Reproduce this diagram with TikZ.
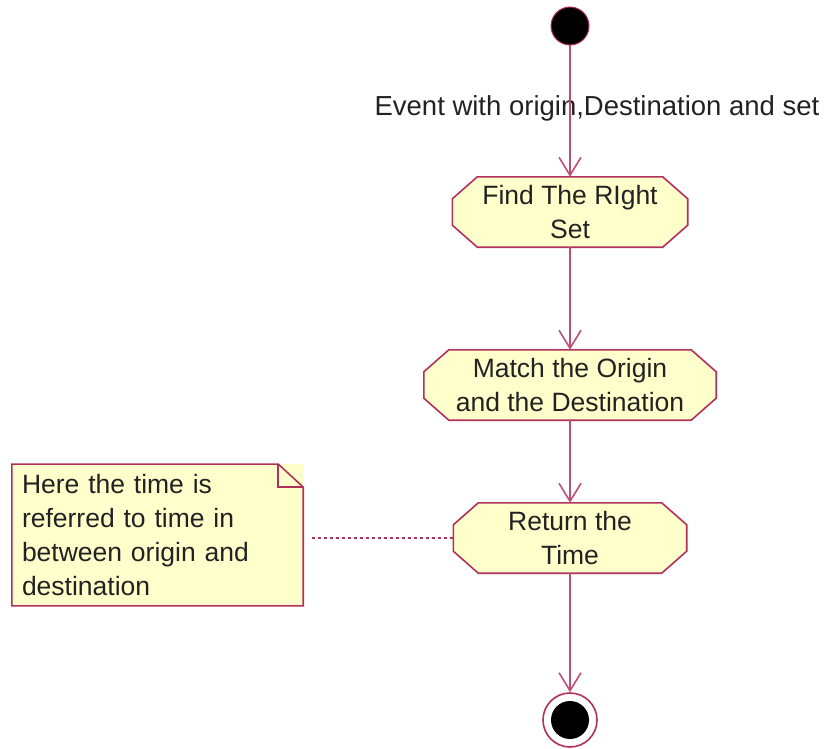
\documentclass[tikz,border=0pt]{standalone}
\usepackage{fontspec}
\setmainfont{Liberation Sans}
\usetikzlibrary{arrows.meta, positioning}
\definecolor{umlline}{RGB}{178,48,92}
\definecolor{umlfill}{RGB}{255,255,204}
\definecolor{umltext}{RGB}{34,34,34}
\pgfdeclarelayer{bg}
\pgfsetlayers{bg,main}
\newcommand{\actbox}[1]{%
  \begin{pgfonlayer}{bg}
  \draw[draw=umlline, line width=1.6pt, fill=umlfill]
    ([xshift=25pt]#1.north west) -- ([xshift=-25pt]#1.north east) -- ([yshift=-22pt]#1.north east)
    -- ([yshift=22pt]#1.south east) -- ([xshift=-25pt]#1.south east) -- ([xshift=25pt]#1.south west)
    -- ([yshift=22pt]#1.south west) -- ([yshift=-22pt]#1.north west) -- cycle;
  \end{pgfonlayer}}
\begin{document}
\begin{tikzpicture}[x=1pt,y=-1pt,
  font=\fontsize{26.5}{34}\selectfont, text=umltext,
  act/.style={rectangle, align=center, minimum height=70pt, inner sep=0pt},
  flow/.style={draw=umlline!85, line width=1.8pt, -{Straight Barb[length=18pt,width=22pt,line width=1.6pt]}},
  note/.style={fill=umlfill, minimum width=291pt, minimum height=140pt, text width=271pt, align=left, inner sep=10pt}]
\useasboundingbox (0,0) rectangle (824,749);
\fill[fill=black, draw=umlline, line width=1pt] (570,26) circle (19);
\node (startc) at (570,26) [circle, minimum size=38pt, inner sep=0pt] {};
\node[font=\fontsize{27.5}{34}\selectfont] (ev) at (597,108) {Event with origin,Destination and set};
\node[act, minimum width=235pt] (find) at (570,212) {Find The RIght\\Set};
\node[act, minimum width=292pt] (match) at (570,385) {Match the Origin\\and the Destination};
\node[act, minimum width=233pt] (ret) at (570,538) {Return the\\Time};
\actbox{find}
\actbox{match}
\actbox{ret}
\node (endc) at (570,720) [circle, draw=umlline, line width=1.6pt, minimum size=54pt, inner sep=0pt] {};
\fill[black] (endc) circle (19);
\node[note] (nt) at (157.5,535) {Here the time is\\referred to time in\\between origin and\\destination};
\draw[umlline, line width=1.6pt] (nt.north west) -- ([xshift=-25pt]nt.north east) -- ([yshift=-23pt]nt.north east) -- (nt.south east) -- (nt.south west) -- cycle;
\draw[umlline, line width=1.6pt] ([xshift=-25pt]nt.north east) |- ([yshift=-23pt]nt.north east);
\draw[flow] (startc) -- (find);
\draw[flow] (find) -- (match);
\draw[flow] (match) -- (ret);
\draw[flow] (ret) -- (endc);
\draw[umlline, line width=1.6pt, dash pattern=on 3pt off 3pt, shorten <=9pt] (nt.east |- ret.west) -- (ret.west);
\end{tikzpicture}
\end{document}
